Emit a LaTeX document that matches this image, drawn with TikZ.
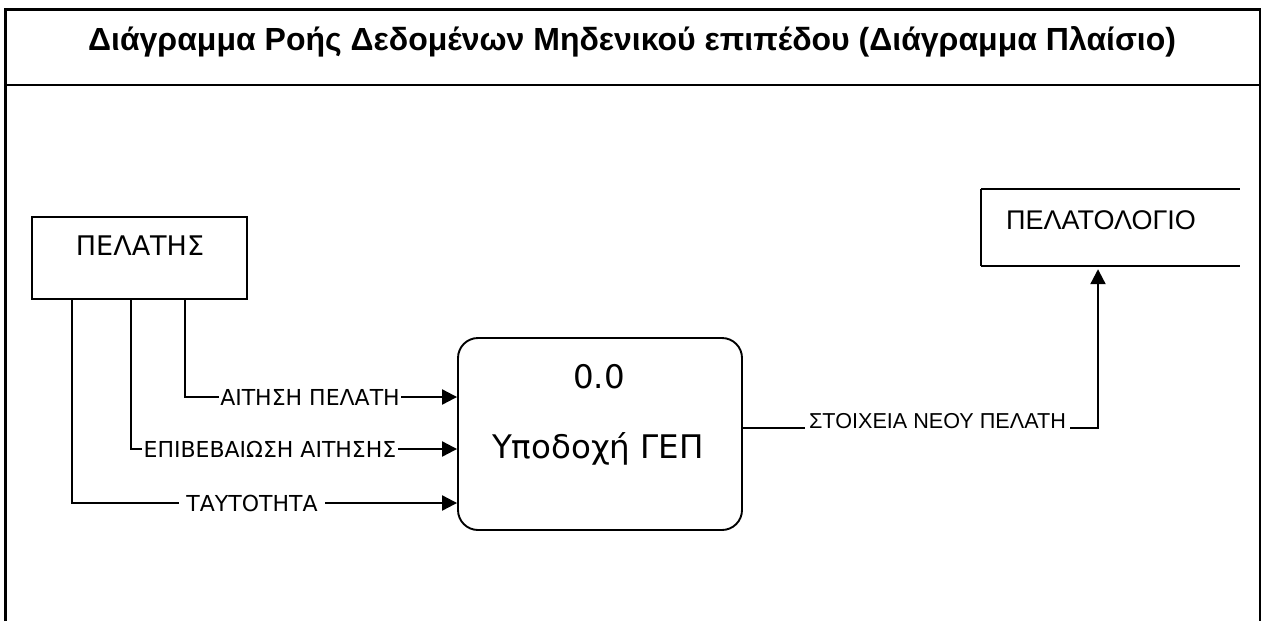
\documentclass[tikz,border=0pt]{standalone}
\usepackage{fontspec}
\setmainfont{DejaVu Sans}
\newfontfamily\arialfont{Liberation Sans}
\usetikzlibrary{arrows.meta}
\begin{document}
\begin{tikzpicture}[x=1pt,y=-1pt,
  entity/.style={draw, line width=1.6pt, minimum width=215pt, minimum height=82pt, inner sep=0pt},
  process/.style={draw, line width=1.9pt, rounded corners=20pt, minimum width=284pt, minimum height=192pt, inner sep=0pt},
  storebox/.style={minimum width=259pt, minimum height=77pt, inner sep=0pt},
  link/.style={line width=1.8pt},
  flow/.style={line width=2.2pt, -{Triangle[length=15pt,width=15pt]}},
  flowlabel/.style={font=\fontsize{22pt}{24pt}\selectfont, fill=white, inner sep=1.5pt},
  storelabel/.style={font=\arialfont\fontsize{21.6pt}{24pt}\selectfont, anchor=base, inner xsep=4pt, inner ysep=0pt, text depth=0pt},
  bigtext/.style={font=\fontsize{32.5pt}{36pt}\selectfont, anchor=base}
]
\useasboundingbox (0,0) rectangle (1263,621);

% outer frame and title band
\draw[line width=3pt] (5,621) -- (5,9) -- (1261,9);
\draw[line width=1.8pt] (1260,9) -- (1260,621);
\draw[line width=2.2pt] (5,85) -- (1260,85);
\node[anchor=base, font=\arialfont\bfseries\fontsize{32pt}{36pt}\selectfont] (title) at (632,50)
  {Διάγραμμα Ροής Δεδομένων Μηδενικού επιπέδου (Διάγραμμα Πλαίσιο)};

% external entity
\node[entity] (pel) at (139.5,258) {};
\node[anchor=base, font=\fontsize{27pt}{30pt}\selectfont] (peltext) at (140,255) {ΠΕΛΑΤΗΣ};

% process
\node[process] (proc) at (600,434) {};
\node[bigtext] (pnum) at (599,388) {0.0};
\node[bigtext] (pname) at (598,458) {Υποδοχή ΓΕΠ};

% data store (open on the right)
\node[storebox] (store) at (1110.5,227.5) {};
\draw[link] (store.north west) -- (store.north east);
\draw[link] (store.north west) -- (store.south west);
\draw[link] (store.south west) -- (store.south east);
\node[anchor=base, font=\arialfont\fontsize{27pt}{30pt}\selectfont] (storetext) at (1101,229) {ΠΕΛΑΤΟΛΟΓΙΟ};

% incoming data flows
\draw[flow] ([xshift=41pt]pel.south west) |- ([yshift=-69pt]proc.west);
\draw[flow] ([xshift=100pt]pel.south west) |- ([yshift=-15pt]proc.west);
\draw[flow] ([xshift=154pt]pel.south west) |- ([yshift=37pt]proc.west);
\node[flowlabel] (l1) at (310,397) {ΑΙΤΗΣΗ ΠΕΛΑΤΗ};
\node[flowlabel] (l2) at (270,449) {ΕΠΙΒΕΒΑΙΩΣΗ ΑΙΤΗΣΗΣ};
\node[flowlabel, inner xsep=7pt] (l3) at (252,503) {ΤΑΥΤΟΤΗΤΑ};

% outgoing data flow to the store
\node[storelabel] (l4) at (937.5,428) {ΣΤΟΙΧΕΙΑ ΝΕΟΥ ΠΕΛΑΤΗ};
\draw[link] (l4.south west -| proc.east) -- (l4.south west);
\draw[flow] (l4.south east) -| ([xshift=-12.5pt,yshift=-3pt]store.south);
\end{tikzpicture}
\end{document}
